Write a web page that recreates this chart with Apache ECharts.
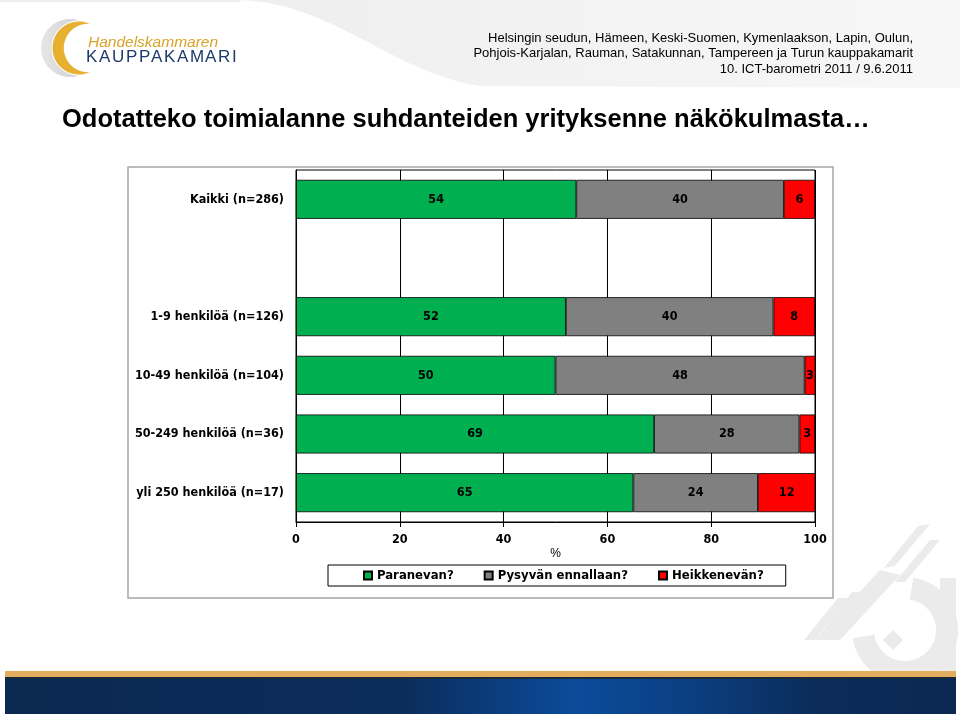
<!DOCTYPE html>
<html>
<head>
<meta charset="utf-8">
<script src="https://cdn.jsdelivr.net/npm/echarts@6/dist/echarts.min.js"></script>
<style>
html,body{margin:0;padding:0;background:#fff;}
#chart{width:960px;height:716px;}
</style>
</head>
<body>
<div id="chart"></div>
<script>
// ---- data ----
const categories = ['Kaikki (n=286)', '', '1-9 henkilöä (n=126)', '10-49 henkilöä (n=104)', '50-249 henkilöä (n=36)', 'yli 250 henkilöä (n=17)'];
const seriesNames = ['Paranevan?', 'Pysyvän ennallaan?', 'Heikkenevän?'];
const paranevan = [54, '-', 52, 50, 69, 65];
const pysyvan = [40, '-', 40, 48, 28, 24];
const heikkenevan = [6, '-', 8, 3, 3, 12];
const xTickLabels = ['0', '20', '40', '60', '80', '100'];
const titleText = 'Odotatteko toimialanne suhdanteiden yrityksenne näkökulmasta…';
const headerLines = [
  'Helsingin seudun, Hämeen, Keski-Suomen, Kymenlaakson, Lapin, Oulun,',
  'Pohjois-Karjalan, Rauman, Satakunnan, Tampereen ja Turun kauppakamarit',
  '10. ICT-barometri 2011 / 9.6.2011'
];

const NARROW = "'Liberation Sans Narrow','Arial Narrow','DejaVu Sans Condensed',sans-serif";
const SANS = "'Liberation Sans',Arial,sans-serif";
const colors = ['#00B050', '#808080', '#FF0000'];

const chart = echarts.init(document.getElementById('chart'), null, {renderer: 'canvas'});

function txt(text, x, y, font, fill, align) {
  return {type: 'text', silent: true, style: {text: text, x: x, y: y, font: font, fill: fill,
    textAlign: align || 'left', textVerticalAlign: 'middle'}};
}
// crescent outline as polygon points: outer circle (cx1,cy,r1) and inner circle (cx2,cy,r2), both through tips at x = tipX
function crescent(cx1, r1, cx2, r2, cy, tipX) {
  const pts = [];
  const a1 = Math.acos((tipX - cx1) / r1);
  const a2 = Math.acos((tipX - cx2) / r2);
  const n = 60;
  for (let i = 0; i <= n; i++) {
    const a = a1 + (2 * Math.PI - 2 * a1) * i / n;
    pts.push([cx1 + r1 * Math.cos(a), cy - r1 * Math.sin(a)]);
  }
  for (let i = 0; i <= n; i++) {
    const a = (2 * Math.PI - a2) - (2 * Math.PI - 2 * a2) * i / n;
    pts.push([cx2 + r2 * Math.cos(a), cy - r2 * Math.sin(a)]);
  }
  return pts;
}
function bez(p0, p1, p2, p3, n) {
  const pts = [];
  for (let i = 0; i <= n; i++) {
    const t = i / n, u = 1 - t;
    pts.push([u*u*u*p0[0] + 3*u*u*t*p1[0] + 3*u*t*t*p2[0] + t*t*t*p3[0],
              u*u*u*p0[1] + 3*u*u*t*p1[1] + 3*u*t*t*p2[1] + t*t*t*p3[1]]);
  }
  return pts;
}

const graphics = [];
// top grey swoosh
const sw = bez([235, 0], [330, 0], [390, 72], [480, 86], 40).concat([[960, 88], [960, 0]]);
graphics.push({type: 'polygon', silent: true, z: -10, shape: {points: sw},
  style: {fill: {type: 'linear', x: 0, y: 0, x2: 1, y2: 0, colorStops: [
    {offset: 0, color: '#eeeeee'}, {offset: 0.5, color: '#f3f3f3'}, {offset: 1, color: '#f7f7f7'}]}}});
graphics.push({type: 'rect', silent: true, z: -10, shape: {x: 0, y: 0, width: 240, height: 2}, style: {fill: '#eeeeee'}});
// logo crescents
graphics.push({type: 'polygon', silent: true, z: -5, shape: {points: crescent(70, 29, 79, 27.5, 48, 78)},
  style: {fill: {type: 'linear', x: 0, y: 0, x2: 1, y2: 0, colorStops: [{offset: 0, color: '#e6e6e6'}, {offset: 1, color: '#d2d2d2'}]}}});
graphics.push({type: 'polygon', silent: true, shape: {points: crescent(79, 26.5, 88, 24.2, 48, 90)}, style: {fill: '#E8B030'}});
graphics.push(txt('Handelskammaren', 88, 43, 'italic 15.5px ' + SANS, '#D9A22A', 'left'));
const km = 'KAUPPAKAMARI';
const kmX = [86, 99, 112, 126, 139, 151, 164, 177, 190, 205, 218, 232];
for (let i = 0; i < km.length; i++) {
  graphics.push(txt(km[i], kmX[i], 57, '17px ' + SANS, '#1E3A6C', 'left'));
}
// header lines
graphics.push(txt(headerLines[0], 913, 38, '13px ' + SANS, '#000', 'right'));
graphics.push(txt(headerLines[1], 913, 53.5, '13px ' + SANS, '#000', 'right'));
graphics.push(txt(headerLines[2], 913, 69, '13px ' + SANS, '#000', 'right'));
// title
graphics.push(txt(titleText, 62, 120, 'bold 25.5px ' + SANS, '#000', 'left'));
// watermark (bottom right)
const wm = '#ebebeb';
function poly(pts) { return {type: 'polygon', silent: true, z: -8, shape: {points: pts}, style: {fill: wm}}; }
graphics.push(poly([[918,526],[930,524],[895,566],[884,568]]));
graphics.push(poly([[930,540],[940,540],[905,582],[895,582]]));
graphics.push(poly([[880,570],[900,575],[840,640],[815,640]]));
graphics.push(poly([[838,598],[848,598],[815,640],[804,640]]));
graphics.push(poly([[852,592],[862,592],[826,640],[816,640]]));
graphics.push({type: 'arc', silent: true, z: -8, shape: {cx: 905, cy: 630, r: 42, startAngle: -Math.PI * 0.45, endAngle: Math.PI * 0.95}, style: {stroke: wm, lineWidth: 22, fill: null}});
graphics.push(poly([[893,630],[903,640],[893,650],[883,640]]));
graphics.push({type: 'rect', silent: true, z: -8, shape: {x: 940, y: 578, width: 16, height: 93}, style: {fill: wm}});
// footer
graphics.push({type: 'rect', silent: true, shape: {x: 5, y: 671, width: 951, height: 6}, style: {fill: '#E2AD5E'}});
graphics.push({type: 'rect', silent: true, shape: {x: 5, y: 677, width: 951, height: 37},
  style: {fill: {type: 'linear', x: 0, y: 0, x2: 1, y2: 0, colorStops: [
    {offset: 0, color: '#0b2850'}, {offset: 0.42, color: '#0b2d5c'}, {offset: 0.6, color: '#0b4b9a'},
    {offset: 0.72, color: '#0b3f82'}, {offset: 0.85, color: '#0b2c5a'}, {offset: 1, color: '#0b2850'}]}}});
graphics.push({type: 'rect', silent: true, shape: {x: 5, y: 677, width: 951, height: 2}, style: {fill: '#1a2a3a'}});
// chart frame
graphics.push({type: 'rect', silent: true, z: -1, shape: {x: 128, y: 167, width: 705, height: 431}, style: {fill: '#fff', stroke: '#a6a6a6', lineWidth: 1.5}});

const labelStyle = {show: true, position: 'inside', color: '#000', fontFamily: NARROW, fontWeight: 'bold', fontSize: 12.5};

function mkSeries(name, data, color) {
  return {name: name, type: 'bar', stack: 'total', data: data, barWidth: 39,
    itemStyle: {color: color, borderColor: '#000', borderWidth: 0.8},
    label: labelStyle};
}

chart.setOption({
  animation: false,
  backgroundColor: '#fff',
  graphic: graphics,
  grid: {left: 296, right: 145, top: 170, bottom: 194, show: true, borderColor: '#000', borderWidth: 1, backgroundColor: 'transparent'},
  legend: {
    left: 328, top: 565, orient: 'horizontal', icon: 'rect', itemWidth: 8, itemHeight: 8, itemGap: 30,
    padding: [4, 22, 4, 35], borderColor: '#000', borderWidth: 1, selectedMode: false,
    textStyle: {fontFamily: NARROW, fontWeight: 'bold', fontSize: 13, color: '#000'},
    data: seriesNames
  },
  xAxis: {
    type: 'value', min: 0, max: 100, interval: 20,
    name: '%', nameLocation: 'middle', nameGap: 26,
    nameTextStyle: {fontFamily: SANS, fontSize: 12, color: '#000'},
    axisLine: {show: true, lineStyle: {color: '#000', width: 1}},
    axisTick: {show: true, length: 5, lineStyle: {color: '#000'}},
    axisLabel: {margin: 11, fontFamily: NARROW, fontWeight: 'bold', fontSize: 12.5, color: '#000',
      formatter: function (v) { return xTickLabels[Math.round(v / 20)]; }},
    splitLine: {show: true, lineStyle: {color: '#000', width: 1}}
  },
  yAxis: {
    type: 'category', data: categories, inverse: true,
    axisLine: {show: true, lineStyle: {color: '#000', width: 1}},
    axisTick: {show: false},
    axisLabel: {margin: 12, fontFamily: NARROW, fontWeight: 'bold', fontSize: 12.5, color: '#000'},
    splitLine: {show: false}
  },
  series: [
    mkSeries(seriesNames[0], paranevan, colors[0]),
    mkSeries(seriesNames[1], pysyvan, colors[1]),
    mkSeries(seriesNames[2], heikkenevan, colors[2])
  ]
});
</script>
</body>
</html>
